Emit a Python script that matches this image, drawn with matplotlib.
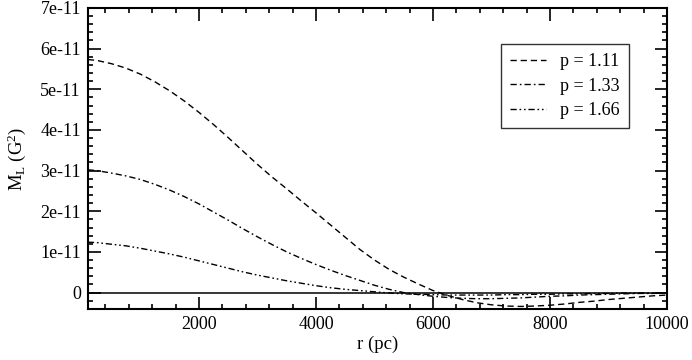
import matplotlib
matplotlib.use("Agg")
import matplotlib.pyplot as plt
from matplotlib.ticker import MultipleLocator, FixedLocator

plt.rcParams['font.family'] = ['Liberation Serif', 'DejaVu Serif']
plt.rcParams['mathtext.fontset'] = 'custom'
plt.rcParams['mathtext.rm'] = 'Liberation Serif'
plt.rcParams['mathtext.it'] = 'Liberation Serif:italic'

r = [100, 250, 500, 750, 1000, 1250, 1500, 1750, 2000, 2250, 2500, 2750,
     3000, 3250, 3500, 3750, 4000, 4250, 4500, 4750, 5000, 5250, 5500,
     5750, 6000, 6250, 6500, 6750, 7000, 7250, 7500, 7750, 8000, 8250,
     8500, 8750, 9000, 9250, 9500, 9750, 10000]

# values in units of 1e-11 G^2
m_p111 = [5.73, 5.71, 5.63, 5.52, 5.37, 5.18, 4.96, 4.71, 4.43, 4.13, 3.81,
          3.48, 3.15, 2.84, 2.55, 2.25, 1.96, 1.66, 1.36, 1.06, 0.80, 0.57,
          0.38, 0.21, 0.05, -0.07, -0.17, -0.25, -0.30, -0.33, -0.34, -0.33,
          -0.31, -0.28, -0.24, -0.21, -0.17, -0.14, -0.11, -0.08, -0.06]
m_p133 = [3.02, 3.00, 2.94, 2.87, 2.78, 2.66, 2.52, 2.36, 2.18, 1.98, 1.78,
          1.57, 1.37, 1.18, 1.00, 0.84, 0.69, 0.55, 0.42, 0.30, 0.18, 0.08,
          0.00, -0.05, -0.09, -0.12, -0.14, -0.15, -0.15, -0.14, -0.13, -0.11,
          -0.09, -0.08, -0.06, -0.05, -0.04, -0.03, -0.02, -0.02, -0.01]
m_p166 = [1.24, 1.23, 1.19, 1.15, 1.09, 1.02, 0.95, 0.87, 0.78, 0.69, 0.60,
          0.51, 0.43, 0.36, 0.29, 0.23, 0.17, 0.12, 0.08, 0.05, 0.02, -0.01,
          -0.03, -0.04, -0.05, -0.06, -0.06, -0.06, -0.06, -0.05, -0.05, -0.04,
          -0.04, -0.03, -0.03, -0.02, -0.02, -0.01, -0.01, -0.01, -0.01]

labels = ["p = 1.11", "p = 1.33", "p = 1.66"]
scale = 1e-11

x_ticks = [2000, 4000, 6000, 8000, 10000]
y_ticks = [0, 1e-11, 2e-11, 3e-11, 4e-11, 5e-11, 6e-11, 7e-11]
y_ticklabels = ["0", "1e-11", "2e-11", "3e-11", "4e-11", "5e-11", "6e-11", "7e-11"]

fig = plt.figure(figsize=(6.92, 3.60), dpi=100)
ax = fig.add_axes([0.127, 0.142, 0.837, 0.836])

lw = 1.0
ax.plot(r, [v * scale for v in m_p111], color='black', lw=lw,
        dashes=(4.5, 2.8), label=labels[0])
ax.plot(r, [v * scale for v in m_p133], color='black', lw=lw,
        dashes=(4.5, 2.2, 1.2, 2.2), label=labels[1])
ax.plot(r, [v * scale for v in m_p166], color='black', lw=lw,
        dashes=(4.5, 2.0, 1.2, 2.0, 1.2, 2.0), label=labels[2])

ax.axhline(0, color='black', lw=1.1)

ax.set_xlim(100, 10000)
ax.set_ylim(-0.4e-11, 7e-11)

ax.xaxis.set_major_locator(FixedLocator(x_ticks))
ax.xaxis.set_minor_locator(MultipleLocator(400))
ax.yaxis.set_major_locator(FixedLocator(y_ticks))
ax.set_yticklabels(y_ticklabels)
ax.yaxis.set_minor_locator(MultipleLocator(0.2e-11))

ax.tick_params(which='both', direction='in', top=True, right=True,
               labelsize=13, width=1.2, color='black')
ax.tick_params(which='major', length=9, pad=5)
ax.tick_params(which='minor', length=3.5)
for s in ax.spines.values():
    s.set_linewidth(1.5)

ax.set_xlabel("r (pc)", fontsize=13.5, labelpad=2)
ax.set_ylabel(r"M$_{\mathrm{L}}$ (G$^{2}$)", fontsize=13.5, labelpad=9)

leg = ax.legend(loc='upper right', bbox_to_anchor=(0.934, 0.880),
                borderaxespad=0.0,
                fontsize=13, frameon=True, fancybox=False,
                edgecolor='black', handlelength=2.0, handletextpad=0.8,
                borderpad=0.5, labelspacing=0.42)
leg.get_frame().set_linewidth(1.0)

fig.savefig("out.png", dpi=100)
